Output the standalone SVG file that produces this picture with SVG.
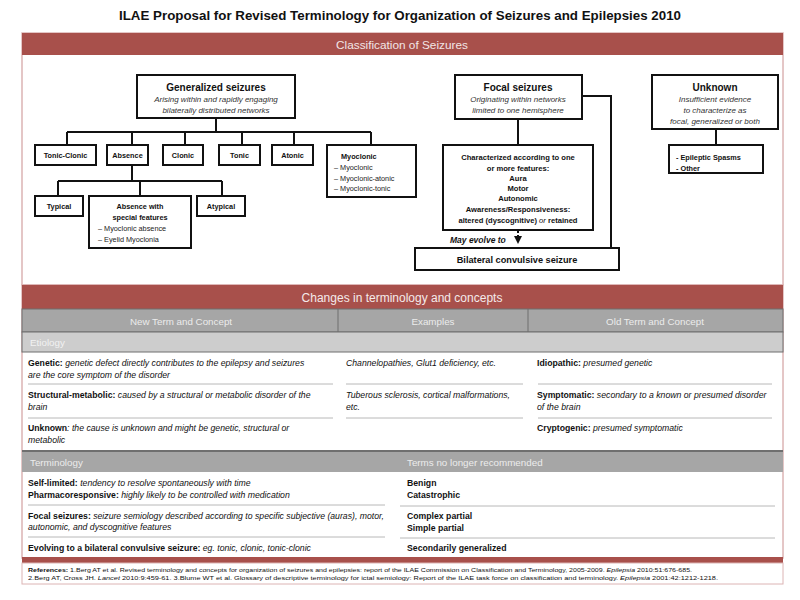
<svg xmlns="http://www.w3.org/2000/svg" width="800" height="600" viewBox="0 0 800 600">
<defs>
<style>
text{font-family:"Liberation Sans",Arial,sans-serif;fill:#111}
.b{font-weight:bold}
.i{font-style:italic}
.c{text-anchor:middle}
.box{fill:#fff;stroke:#111;stroke-width:2}
.con{fill:none;stroke:#111;stroke-width:2}
.h1{font-size:10px;font-weight:bold}
.sub{font-size:8px;font-style:italic;fill:#333}
.sm{font-size:7.3px;font-weight:bold}
.ch{font-size:7.6px;font-weight:bold}
.li{font-size:7.3px;fill:#222}
.tb{font-size:8.7px}
.sep{stroke:#b8b8b8;stroke-width:1}
.hd{font-size:9.8px}
</style>
<marker id="arr" markerWidth="8" markerHeight="8" refX="4" refY="4" orient="auto" markerUnits="userSpaceOnUse">
<path d="M0,0 L8,4 L0,8 z" fill="#111"/>
</marker>
</defs>
<rect width="800" height="600" fill="#fff"/>
<text x="400" y="20" class="b c" font-size="13" textLength="562" lengthAdjust="spacingAndGlyphs">ILAE Proposal for Revised Terminology for Organization of Seizures and Epilepsies 2010</text>

<g id="classification-frame">
<rect x="22" y="33" width="761" height="252" fill="#fff" stroke="#dcb4b4" stroke-width="1.5"/>
<rect x="22" y="33" width="761" height="22" fill="#a8504b"/>
<text x="402" y="48.5" class="c" font-size="11.8" style="fill:#f2e6e6">Classification of Seizures</text>
</g>

<g id="connectors">
<path class="con" d="M216,118 V132 M67,132 H371 M67,132 V145 M132,132 V145 M185,132 V145 M242,132 V145 M294,132 V145 M371,132 V145"/>
<path class="con" d="M132,165 V181 M58,181 H222 M58,181 V196 M140,181 V196 M222,181 V196"/>
<path class="con" d="M518,119 V145"/>
<path class="con" d="M582,96 H611 V248"/>
<path class="con" d="M716,129 V145"/>
<path fill="none" stroke="#111" stroke-width="2" stroke-dasharray="3,2" d="M518,230 V240" marker-end="url(#arr)"/>
</g>

<g id="generalized">
<rect class="box" x="137" y="75" width="158" height="43"/>
<text x="216" y="90.5" class="h1 c">Generalized seizures</text>
<text x="216" y="102" class="sub c">Arising within and rapidly engaging</text>
<text x="216" y="113" class="sub c">bilaterally distributed networks</text>
</g>
<g id="tonic-clonic"><rect class="box" x="35" y="145" width="61" height="20"/><text x="65.5" y="158" class="sm c">Tonic-Clonic</text></g>
<g id="absence"><rect class="box" x="107" y="145" width="41" height="20"/><text x="127.5" y="158" class="sm c">Absence</text></g>
<g id="clonic"><rect class="box" x="163" y="145" width="40" height="20"/><text x="183" y="158" class="sm c">Clonic</text></g>
<g id="tonic"><rect class="box" x="219" y="145" width="41" height="20"/><text x="239.5" y="158" class="sm c">Tonic</text></g>
<g id="atonic"><rect class="box" x="272" y="145" width="41" height="20"/><text x="292.5" y="158" class="sm c">Atonic</text></g>
<g id="myoclonic">
<rect class="box" x="327" y="145" width="89" height="52"/>
<text x="341" y="159" class="sm">Myoclonic</text>
<text x="334" y="170" class="li">–  Myoclonic</text>
<text x="334" y="180.5" class="li">–  Myoclonic-atonic</text>
<text x="334" y="191" class="li">–  Myoclonic-tonic</text>
</g>
<g id="typical"><rect class="box" x="35" y="196" width="48" height="20"/><text x="59" y="209" class="sm c">Typical</text></g>
<g id="absence-special">
<rect class="box" x="89" y="196" width="102" height="52"/>
<text x="140" y="209" class="sm c">Absence with</text>
<text x="140" y="220" class="sm c">special features</text>
<text x="98" y="231" class="li">–  Myoclonic absence</text>
<text x="98" y="242" class="li">–  Eyelid Myoclonia</text>
</g>
<g id="atypical"><rect class="box" x="197" y="196" width="48" height="20"/><text x="221" y="209" class="sm c">Atypical</text></g>

<g id="focal">
<rect class="box" x="455" y="75" width="127" height="44"/>
<text x="518" y="90.5" class="h1 c">Focal seizures</text>
<text x="518" y="102" class="sub c">Originating within networks</text>
<text x="518" y="113" class="sub c">limited to one hemisphere</text>
</g>
<g id="characterized">
<rect class="box" x="443" y="145" width="150" height="85"/>
<text x="518" y="160" class="ch c">Characterized according to one</text>
<text x="518" y="170.5" class="ch c">or more features:</text>
<text x="518" y="180.5" class="ch c">Aura</text>
<text x="518" y="191" class="ch c">Motor</text>
<text x="518" y="201" class="ch c">Autonomic</text>
<text x="518" y="212" class="ch c">Awareness/Responsiveness:</text>
<text x="518" y="223" class="ch c">altered (dyscognitive) <tspan class="i" font-weight="normal">or</tspan> retained</text>
</g>
<text x="450" y="243" class="b i" font-size="8.5">May evolve to</text>
<g id="bilateral">
<rect class="box" x="415" y="248" width="204" height="22" stroke-width="1.6"/>
<text x="517" y="262.5" class="b c" font-size="9.2">Bilateral convulsive seizure</text>
</g>

<g id="unknown">
<rect class="box" x="652" y="75" width="126" height="54"/>
<text x="715" y="90.5" class="h1 c">Unknown</text>
<text x="715" y="102" class="sub c">Insufficient evidence</text>
<text x="715" y="113" class="sub c">to characterize as</text>
<text x="715" y="124" class="sub c">focal, generalized or both</text>
</g>
<g id="unknown-list">
<rect class="box" x="669" y="145" width="94" height="28"/>
<text x="676" y="160" class="sm" font-size="7.6">- Epileptic Spasms</text>
<text x="676" y="170.5" class="sm" font-size="7.6">- Other</text>
</g>

<g id="changes-table">
<rect x="22" y="285" width="761" height="273" fill="#fff" stroke="#dcb4b4" stroke-width="1.5"/>
<rect x="22" y="285" width="761" height="24" fill="#a8504b"/>
<text x="402" y="302" class="c" font-size="12" style="fill:#f4eaea">Changes in terminology and concepts</text>
<rect x="22" y="309" width="761" height="23" fill="#a6a6a6" stroke="#6f6f6f" stroke-width="1"/>
<line x1="338" y1="309" x2="338" y2="332" stroke="#6f6f6f" stroke-width="1"/>
<line x1="528" y1="309" x2="528" y2="332" stroke="#6f6f6f" stroke-width="1"/>
<text x="181" y="324.5" class="hd c" style="fill:#ececec">New Term and Concept</text>
<text x="433" y="324.5" class="hd c" style="fill:#ececec">Examples</text>
<text x="655" y="324.5" class="hd c" style="fill:#ececec">Old Term and Concept</text>
<rect x="22" y="332" width="761" height="20" fill="#cdcdcd" stroke="#6f6f6f" stroke-width="1"/>
<text x="30" y="346" class="hd" style="fill:#f2f2f2">Etiology</text>

<text x="28" y="366" class="tb"><tspan class="b">Genetic:</tspan><tspan class="i"> genetic defect directly contributes to the epilepsy and seizures</tspan></text>
<text x="28" y="378" class="tb i">are the core symptom of the disorder</text>
<text x="346" y="366" class="tb i">Channelopathies, Glut1 deficiency, etc.</text>
<text x="537" y="366" class="tb"><tspan class="b">Idiopathic:</tspan><tspan class="i"> presumed genetic</tspan></text>
<line class="sep" x1="28" y1="384" x2="333" y2="384"/>
<line class="sep" x1="346" y1="384" x2="523" y2="384"/>
<line class="sep" x1="538" y1="384" x2="772" y2="384"/>

<text x="28" y="398" class="tb"><tspan class="b">Structural-metabolic:</tspan><tspan class="i"> caused by a structural or metabolic disorder of the</tspan></text>
<text x="28" y="410" class="tb i">brain</text>
<text x="346" y="398" class="tb i">Tuberous sclerosis, cortical malformations,</text>
<text x="346" y="410" class="tb i">etc.</text>
<text x="537" y="398" class="tb"><tspan class="b">Symptomatic:</tspan><tspan class="i"> secondary to a known or presumed disorder</tspan></text>
<text x="537" y="410" class="tb i">of the brain</text>
<line class="sep" x1="28" y1="418" x2="333" y2="418"/>
<line class="sep" x1="346" y1="418" x2="523" y2="418"/>
<line class="sep" x1="538" y1="418" x2="772" y2="418"/>

<text x="28" y="431" class="tb"><tspan class="b">Unknown</tspan><tspan class="i">: the cause is unknown and might be genetic, structural or</tspan></text>
<text x="28" y="443" class="tb i">metabolic</text>
<text x="537" y="431" class="tb"><tspan class="b">Cryptogenic:</tspan><tspan class="i"> presumed symptomatic</tspan></text>

<rect x="22" y="451" width="761" height="21" fill="#a6a6a6"/>
<line x1="22" y1="451" x2="783" y2="451" stroke="#6f6f6f" stroke-width="2"/>
<text x="30" y="466" class="hd" style="fill:#ececec">Terminology</text>
<text x="407" y="466" class="hd" style="fill:#ececec">Terms no longer recommended</text>

<text x="28" y="486" class="tb"><tspan class="b">Self-limited:</tspan><tspan class="i"> tendency to resolve spontaneously with time</tspan></text>
<text x="28" y="498" class="tb"><tspan class="b">Pharmacoresponsive:</tspan><tspan class="i"> highly likely to be controlled with medication</tspan></text>
<line class="sep" x1="28" y1="505" x2="385" y2="505"/>
<text x="28" y="519" class="tb"><tspan class="b">Focal seizures:</tspan><tspan class="i"> seizure semiology described according to specific subjective (auras), motor,</tspan></text>
<text x="28" y="530" class="tb i">autonomic, and dyscognitive features</text>
<line class="sep" x1="28" y1="537" x2="385" y2="537"/>
<text x="28" y="551" class="tb"><tspan class="b">Evolving to a bilateral convulsive seizure:</tspan><tspan class="i"> eg. tonic, clonic, tonic-clonic</tspan></text>

<text x="407" y="486" class="tb b">Benign</text>
<text x="407" y="498" class="tb b">Catastrophic</text>
<line class="sep" x1="400" y1="506" x2="775" y2="506"/>
<text x="407" y="519" class="tb b">Complex partial</text>
<text x="407" y="531" class="tb b">Simple partial</text>
<line class="sep" x1="400" y1="538" x2="775" y2="538"/>
<text x="407" y="551" class="tb b">Secondarily generalized</text>
<rect x="22" y="557" width="761" height="6" fill="#a8504b"/>
</g>

<g id="references">
<rect x="22" y="563" width="761" height="21" fill="#fff" stroke="#dcb4b4" stroke-width="1"/>
<text x="28" y="572" font-size="5.5" textLength="664" lengthAdjust="spacingAndGlyphs"><tspan class="b">References:</tspan> 1.Berg AT et al. Revised terminology and concepts for organization of seizures and epilepsies: report of the ILAE Commission on Classification and Terminology, 2005-2009.  <tspan class="i">Epilepsia</tspan> 2010:51:676-685.</text>
<text x="28" y="580" font-size="5.5" textLength="690" lengthAdjust="spacingAndGlyphs">2.Berg AT, Cross JH. <tspan class="i">Lancet</tspan> 2010:9:459-61.  3.Blume WT et al. Glossary of descriptive terminology for ictal semiology: Report of the ILAE task force on classification and terminology.  <tspan class="i">Epilepsia</tspan> 2001:42:1212-1218.</text>
</g>
</svg>
